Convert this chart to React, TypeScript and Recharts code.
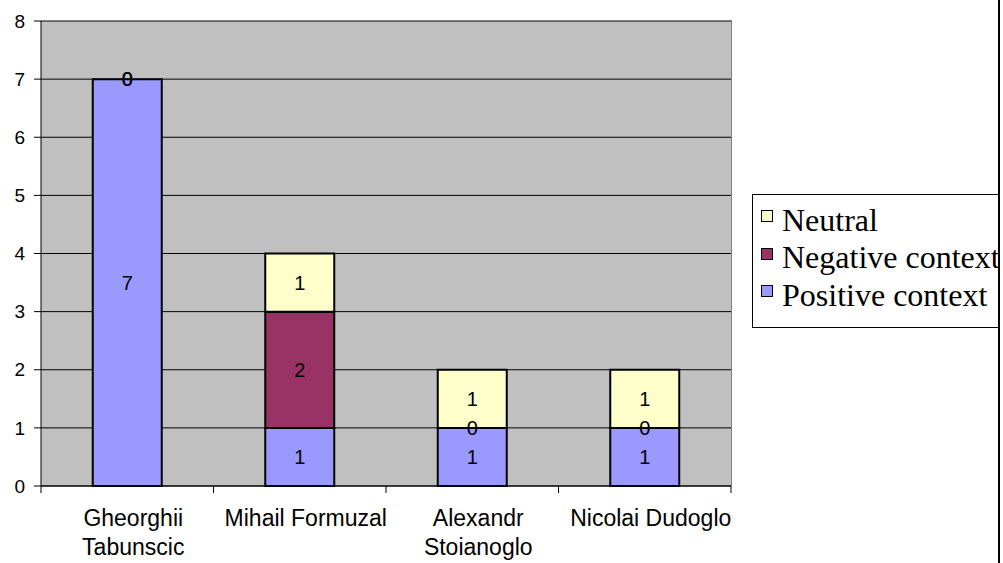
import { Bar, BarChart, CartesianGrid, LabelList, ReferenceDot, XAxis, YAxis } from "recharts";

const categories = ["Gheorghii Tabunscic", "Mihail Formuzal", "Alexandr Stoianoglo", "Nicolai Dudoglo"];
const positiveContext = [7, 1, 1, 1];
const negativeContext = [0, 2, 0, 0];
const neutral = [0, 1, 1, 1];
const yTicks = [0, 1, 2, 3, 4, 5, 6, 7, 8];

const legendItems = [
  { name: "Neutral", color: "#FFFFCC" },
  { name: "Negative context", color: "#993366" },
  { name: "Positive context", color: "#9999FF" },
];

const rows = categories.map((name, i) => ({
  name,
  positive: positiveContext[i],
  negative: negativeContext[i],
  neutral: neutral[i],
}));

// zero-height segments still get a "0" printed where the segment would sit
const zeroLabels = categories.flatMap((name, i) => {
  const out: { key: string; name: string; y: number }[] = [];
  if (negativeContext[i] === 0) out.push({ key: `neg-${i}`, name, y: positiveContext[i] });
  if (neutral[i] === 0)
    out.push({ key: `neu-${i}`, name, y: positiveContext[i] + negativeContext[i] });
  return out;
});

const SANS = '"Liberation Sans", Arial, sans-serif';
const SERIF = '"Liberation Serif", "Times New Roman", serif';

const PLOT_LEFT = 41;
const PLOT_TOP = 21;
const PLOT_RIGHT = 731;
const PLOT_BOTTOM = 486;
const BAND = (PLOT_RIGHT - PLOT_LEFT) / categories.length;
const TICK_FONT = 23;

let measureCtx: CanvasRenderingContext2D | null = null;
function wrapLabel(text: string, maxWidth: number): string[] {
  if (!measureCtx) measureCtx = document.createElement("canvas").getContext("2d");
  const ctx = measureCtx!;
  ctx.font = `${TICK_FONT}px ${SANS}`;
  const lines: string[] = [];
  let current = "";
  for (const word of text.split(" ")) {
    const next = current ? `${current} ${word}` : word;
    if (current && ctx.measureText(next).width > maxWidth) {
      lines.push(current);
      current = word;
    } else {
      current = next;
    }
  }
  if (current) lines.push(current);
  return lines;
}

function CategoryTick(props: any) {
  const { x, y, payload, index } = props;
  const half = BAND / 2;
  const lines = wrapLabel(String(payload.value), BAND - 4);
  const tx = x + 6;
  return (
    <g>
      <line x1={x - half} x2={x - half} y1={y} y2={y + 7} stroke="#000" />
      {index === categories.length - 1 && (
        <line x1={x + half} x2={x + half} y1={y} y2={y + 7} stroke="#000" />
      )}
      <text x={tx} y={y + 40} textAnchor="middle" fontSize={TICK_FONT} fontFamily={SANS} fill="#000">
        {lines.map((line, i) => (
          <tspan key={i} x={tx} dy={i === 0 ? 0 : 29}>
            {line}
          </tspan>
        ))}
      </text>
    </g>
  );
}

const labelProps = { position: "center" as const, fill: "#000", fontSize: 20, fontFamily: SANS };

export default function App() {
  return (
    <div
      style={{
        position: "absolute",
        left: 0,
        top: 0,
        width: 1000,
        height: 563,
        overflow: "hidden",
        background: "#fff",
        borderRight: "2px solid #000",
        boxSizing: "border-box",
      }}
    >
      <BarChart
        width={1003}
        height={563}
        data={rows}
        barCategoryGap="30%"
        margin={{ top: PLOT_TOP, right: 1003 - PLOT_RIGHT, bottom: 0, left: 0 }}
      >
        <CartesianGrid vertical={false} stroke="#000" fill="#C0C0C0" fillOpacity={1} />
        <XAxis
          dataKey="name"
          height={563 - PLOT_BOTTOM}
          axisLine={{ stroke: "#000" }}
          tickLine={false}
          tickSize={0}
          tickMargin={0}
          interval={0}
          tick={<CategoryTick />}
        />
        <YAxis
          width={PLOT_LEFT}
          domain={[0, 8]}
          ticks={yTicks}
          interval={0}
          axisLine={{ stroke: "#000" }}
          tickLine={{ stroke: "#000" }}
          tickSize={7}
          tickMargin={9}
          tick={{ fill: "#000", fontSize: 19, fontFamily: SANS }}
        />
        <Bar dataKey="positive" stackId="a" fill="#9999FF" stroke="#000" strokeWidth={2} isAnimationActive={false}>
          <LabelList dataKey="positive" {...labelProps} />
        </Bar>
        <Bar dataKey="negative" stackId="a" fill="#993366" stroke="#000" strokeWidth={2} isAnimationActive={false}>
          <LabelList dataKey="negative" {...labelProps} />
        </Bar>
        <Bar dataKey="neutral" stackId="a" fill="#FFFFCC" stroke="#000" strokeWidth={2} isAnimationActive={false}>
          <LabelList dataKey="neutral" {...labelProps} />
        </Bar>
        {zeroLabels.map((z) => (
          <ReferenceDot
            key={z.key}
            x={z.name}
            y={z.y}
            r={1}
            fill="none"
            stroke="none"
            label={{ value: 0, position: "center", fill: "#000", fontSize: 20, fontFamily: SANS }}
          />
        ))}
      </BarChart>

      {/* plot area frame: grey top and right edges */}
      <div
        style={{
          position: "absolute",
          left: PLOT_LEFT,
          top: PLOT_TOP - 1,
          width: PLOT_RIGHT - PLOT_LEFT,
          height: PLOT_BOTTOM - PLOT_TOP,
          borderTop: "1px solid #808080",
          borderRight: "1px solid #808080",
          pointerEvents: "none",
        }}
      />

      <div
        style={{
          position: "absolute",
          left: 752,
          top: 194,
          width: 300,
          height: 134,
          border: "1px solid #000",
          boxSizing: "border-box",
          paddingTop: 6.5,
          fontFamily: SERIF,
          fontSize: 32,
          color: "#000",
        }}
      >
        {legendItems.map((item) => (
          <div key={item.name} style={{ position: "relative", height: 37.5, lineHeight: "37.5px" }}>
            <span
              style={{
                position: "absolute",
                left: 8,
                top: 8.5,
                width: 10,
                height: 10,
                border: "1px solid #000",
                background: item.color,
              }}
            />
            <span style={{ position: "absolute", left: 29, top: 0, whiteSpace: "nowrap" }}>{item.name}</span>
          </div>
        ))}
      </div>
    </div>
  );
}
